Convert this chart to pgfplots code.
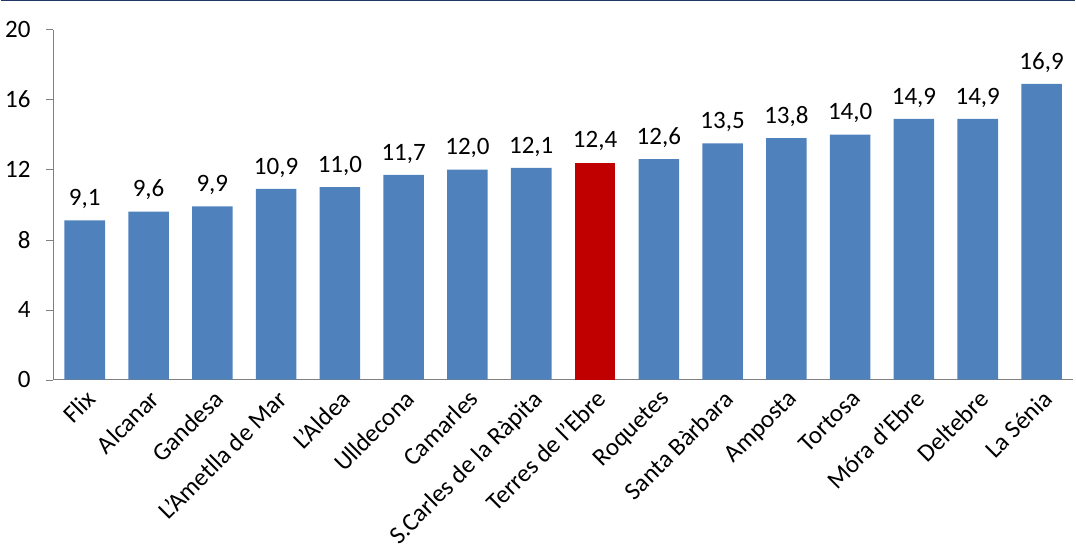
\documentclass[border=0pt]{standalone}
\usepackage{pgfplots}
\pgfplotsset{compat=1.18}
\usepackage{fontspec}
\setmainfont{Carlito}
\definecolor{barblue}{HTML}{4F81BD}
\definecolor{barred}{HTML}{C00000}
\begin{document}
\begin{tikzpicture}
\begin{axis}[
  scale only axis, width=755pt, height=259pt,
  ymin=0, ymax=20, ytick={0,4,...,20},
  xmin=-0.5, xmax=15.5,
  xtick={0,...,15},
  xticklabels={Flix,Alcanar,Gandesa,L'Ametlla de Mar,L'Aldea,Ulldecona,Camarles,S.Carles de la Ràpita,Terres de l'Ebre,Roquetes,Santa Bàrbara,Amposta,Tortosa,Móra d'Ebre,Deltebre,La Sénia},
  xticklabel style={rotate=45, anchor=north east, inner sep=1pt, font=\fontsize{18.5}{21}\selectfont},
  yticklabel style={font=\fontsize{18.5}{21}\selectfont, xshift=-8pt},
  /pgf/number format/assume math mode=true,
  axis x line*=bottom, axis y line*=left,
  extra x ticks={-0.5,0.5,...,15.5}, extra x tick labels={},
  extra x tick style={major tick length=5pt, tick style={draw=gray}},
  x tick style={draw=none},
  y tick style={draw=gray}, tick align=outside, major tick length=5pt,
  axis line style={draw=gray},
  ybar, bar width=30pt, bar shift=0pt,
  nodes near coords,
  nodes near coords style={font=\fontsize{18.5}{21}\selectfont, yshift=5pt, /pgf/number format/use comma, /pgf/number format/fixed, /pgf/number format/fixed zerofill, /pgf/number format/precision=1},
  clip=false,
]
\addplot[fill=barblue, draw=none] coordinates {(0,9.1)(1,9.6)(2,9.9)(3,10.9)(4,11.0)(5,11.7)(6,12.0)(7,12.1)(9,12.6)(10,13.5)(11,13.8)(12,14.0)(13,14.9)(14,14.9)(15,16.9)};
\addplot[fill=barred, draw=none] coordinates {(8,12.4)};
\end{axis}
\path (current bounding box.north) ++(0,12pt) coordinate (top);
\draw[draw={rgb,255:red,31;green,56;blue,100}, line width=1pt] (current bounding box.west |- top) -- (current bounding box.east |- top);
\end{tikzpicture}
\end{document}
